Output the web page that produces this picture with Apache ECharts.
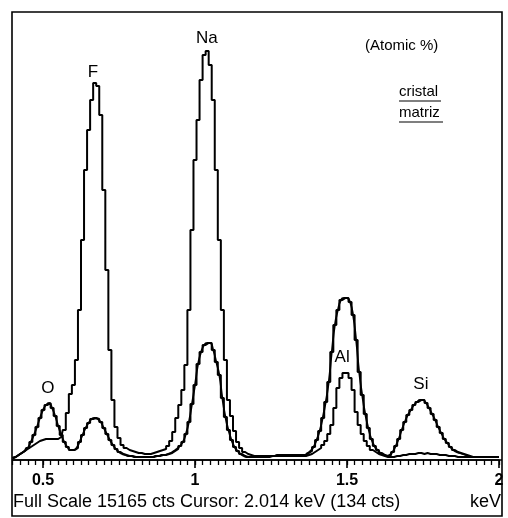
<!DOCTYPE html>
<html>
<head>
<meta charset="utf-8">
<script src="https://cdn.jsdelivr.net/npm/echarts@6/dist/echarts.min.js"></script>
<style>
html,body{margin:0;padding:0;background:#fff;}
#chart{width:508px;height:518px;}
</style>
</head>
<body>
<div id="chart"></div>
<script>
// Energy channels: 0.40 keV to 2.00 keV, 0.01 keV per channel
const channelStart = 0.40;
const channelWidth = 0.01;

// Counts per channel, spectrum "cristal" (large F and Na peaks)
const cristal = [
  68,102,170,238,306,374,442,510,578,646,680,714,714,714,714,714,782,
  1020,1598,2244,2550,3400,5100,7480,9860,11220,12240,
  12818,12716,11730,9180,6460,3740,2040,1122,748,510,
  408,340,306,272,238,238,204,204,204,238,
  272,306,340,374,476,646,952,1428,1870,2380,
  3230,5100,7820,10200,11560,12920,13770,13906,13430,12240,
  9860,7480,5100,3400,2040,1496,986,612,408,272,
  204,170,
  136,136,136,136,136,136,136,136,136,136,136,136,136,136,136,136,136,
  136,170,204,272,340,408,510,646,884,1190,
  1768,2448,2788,2958,2958,2788,2380,1632,1190,884,
  646,476,340,272,204,170,136,102,
  102,102,136,136,170,170,204,204,
  204,238,238,204,238,204,204,204,170,
  170,170,136,136,136,102,102,102,102,102,
  102,102,102,102,102,102,102,102,102,102
];

// Counts per channel, spectrum "matriz" (O, Al, Si peaks)
const matriz = [
  68,102,170,238,306,408,612,850,1122,1428,1700,1870,1938,1768,1496,1156,850,
  612,442,340,340,408,612,850,1088,1258,1394,
  1428,1394,1292,1088,884,680,510,374,272,204,
  170,136,136,102,102,102,102,102,102,102,
  136,136,170,170,204,238,306,374,476,612,
  884,1292,1904,2550,3264,3672,3910,3978,3978,3740,
  3332,2890,2108,1462,1020,680,442,306,204,136,
  102,102,
  102,102,102,102,102,102,136,136,170,170,170,170,170,170,170,170,170,
  170,238,306,442,680,986,1428,1972,2652,3672,
  4590,5100,5440,5508,5508,5372,4930,4080,2992,2210,
  1564,1088,714,476,340,238,170,136,
  170,272,476,714,1020,1292,1530,1700,1870,1972,
  2040,2040,1938,1768,1564,1360,1122,918,714,578,
  442,340,272,238,204,170,136,
  102,102,102,102,102,102,102,102,102,102
];

const fullScale = 15165;
const majorTicks = [0.5, 1, 1.5, 2];
const tickLabels = ['0.5', '1', '1.5', '2'];
const minorTickStep = 0.025;

// Peak labels: element, energy (keV), counts at label centre
const peakNames = ['O', 'F', 'Na', 'Al', 'Si'];
const peakEnergy = [0.516, 0.664, 1.039, 1.484, 1.743];
const peakCounts = [2448, 13192, 14348, 3502, 2584];

const legendNames = ['cristal', 'matriz'];
const unitNote = '(Atomic %)';
const footer = 'Full Scale 15165 cts Cursor: 2.014 keV (134 cts)';
const axisUnit = 'keV';

function toPairs(arr) {
  return arr.map((v, i) => [+(channelStart + i * channelWidth).toFixed(3), v]);
}

const minorTicks = [];
for (let k = 0; k <= 64; k++) minorTicks.push(+(0.4 + k * minorTickStep).toFixed(3));

const FONT = '"Liberation Sans", Arial, sans-serif';

const chart = echarts.init(document.getElementById('chart'), null, {renderer: 'canvas'});

const option = {
  animation: false,
  backgroundColor: '#fff',
  grid: {left: 12.6, right: 9, top: 14, bottom: 58, containLabel: false},
  xAxis: [
    {
      type: 'value', min: 0.4, max: 2.0,
      axisLine: {show: true, lineStyle: {color: '#000', width: 1.5}},
      axisTick: {show: true, customValues: minorTicks, length: 5, lineStyle: {color: '#000', width: 1.3}},
      axisLabel: {
        show: true, customValues: majorTicks, margin: 13,
        color: '#000', fontSize: 16, fontWeight: 'bold', fontFamily: FONT,
        formatter: v => tickLabels[majorTicks.indexOf(+v)] || ''
      },
      splitLine: {show: false}
    },
    {
      type: 'value', min: 0.4, max: 2.0, position: 'bottom',
      axisLine: {show: false},
      axisTick: {show: true, customValues: majorTicks, length: 8, lineStyle: {color: '#000', width: 1.6}},
      axisLabel: {show: false},
      splitLine: {show: false}
    }
  ],
  yAxis: {
    type: 'value', min: 0, max: fullScale, show: false
  },
  series: [
    {
      name: legendNames[1], type: 'line', step: 'middle', data: toPairs(matriz),
      showSymbol: false, lineStyle: {color: '#000', width: 2}, z: 3
    },
    {
      name: legendNames[1] + ' fit', type: 'line', smooth: 0.5, data: toPairs(matriz),
      showSymbol: false, lineStyle: {color: '#000', width: 1.8}, z: 3
    },
    {
      name: legendNames[0], type: 'line', step: 'middle', data: toPairs(cristal),
      showSymbol: false, lineStyle: {color: '#000', width: 2}, z: 4,
      markPoint: {
        symbol: 'circle', symbolSize: 1,
        itemStyle: {color: 'rgba(0,0,0,0)'},
        label: {show: true, position: 'inside', color: '#000', fontSize: 17, fontFamily: FONT,
                formatter: p => p.name},
        data: peakNames.map((n, i) => ({name: n, coord: [peakEnergy[i], peakCounts[i]]}))
      }
    }
  ],
  graphic: [
    {type: 'rect', shape: {x: 12, y: 12, width: 490, height: 504},
     style: {fill: 'none', stroke: '#000', lineWidth: 1.6}, z: 10},
    {type: 'line', shape: {x1: 12, y1: 460, x2: 502, y2: 460},
     style: {stroke: '#000', lineWidth: 1.6}, z: 10},
    {type: 'text', left: 365, top: 38,
     style: {text: unitNote, fill: '#000', font: '15px ' + FONT}},
    {type: 'text', left: 399, top: 84,
     style: {text: legendNames[0], fill: '#000', font: '15px ' + FONT}},
    {type: 'line', shape: {x1: 399, y1: 101, x2: 441, y2: 101}, style: {stroke: '#000', lineWidth: 1.2}},
    {type: 'text', left: 399, top: 105,
     style: {text: legendNames[1], fill: '#000', font: '15px ' + FONT}},
    {type: 'line', shape: {x1: 399, y1: 122, x2: 443, y2: 122}, style: {stroke: '#000', lineWidth: 1.2}},
    {type: 'text', left: 13, top: 493,
     style: {text: footer, fill: '#000', font: '18px ' + FONT}},
    {type: 'text', right: 7, top: 493,
     style: {text: axisUnit, fill: '#000', font: '18px ' + FONT}}
  ]
};

chart.setOption(option);
</script>
</body>
</html>
